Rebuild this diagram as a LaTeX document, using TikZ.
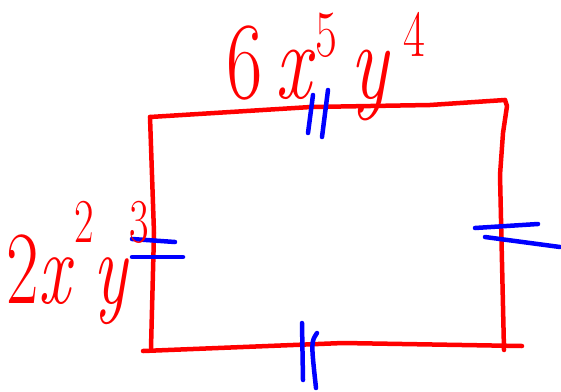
\documentclass[tikz,border=0pt]{standalone}
\usetikzlibrary{positioning}
\tikzset{
    lado/.style={draw=red, line width=4.5pt, line cap=round, line join=round},
    marca/.style={draw=blue, line width=4.5pt, line cap=round},
    etiqueta/.style={text=red, inner sep=0pt, anchor=base west},
}
\newcommand{\exponente}[2][0.38em]{\raisebox{#1}{\scalebox{0.6}{#2}}}

\begin{document}
\begin{tikzpicture}[x=1pt,y=-1pt]
\useasboundingbox (0,0) rectangle (561,391);
% Esquinas
\coordinate (A) at (150,117);
\coordinate (B) at (505,100);
\coordinate (C) at (504,350);
\coordinate (D) at (151,348);
% Lados
\draw[lado] (A) -- (311,107) -- (430,105) -- (B);
\draw[lado] (B) -- (507,106) -- (503,133) -- (500,175) -- (C);
\draw[lado] (143,351) -- (343,343) -- (522,346);
\draw[lado] (A) -- (154,233) -- (D);
% Marcas arriba y abajo
\draw[marca] (313,95) -- (308,133);
\draw[marca] (328,90) -- (322,137);
\draw[marca] (302,323) -- (303,380);
\draw[marca] (317,333) .. controls (311,342) .. (316,388);
% Marcas izquierda y derecha
\draw[marca] (132,239) -- (175,242);
\draw[marca] (132,257) -- (183,257);
\draw[marca] (475,228) -- (538,224);
\draw[marca] (485,237) -- (560,247);
% Etiquetas
\node[etiqueta] (arriba) at (226,98)
  {\scalebox{0.72}[1]{\fontsize{110}{110}\selectfont 6\,\textit{x}\exponente{5}\,\textit{y}\,\exponente{4}}};
\node[etiqueta] (izquierda) at (6,303)
  {\scalebox{0.68}[1]{\fontsize{104}{104}\selectfont 2\textit{x}\exponente[0.58em]{2}\textit{y}\exponente[0.58em]{3}}};
\end{tikzpicture}
\end{document}
